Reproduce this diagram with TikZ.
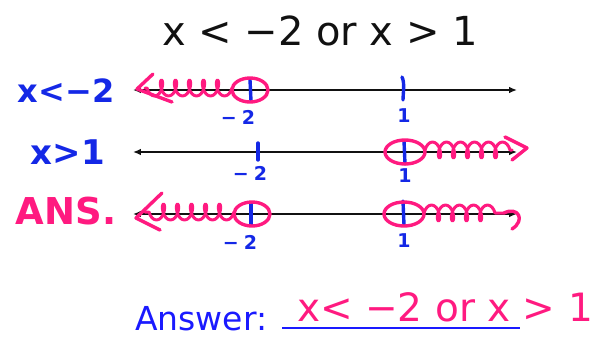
\documentclass[tikz,border=0pt]{standalone}
\usepackage{fontspec}
\setsansfont{DejaVu Sans}
\usetikzlibrary{arrows.meta,decorations.pathmorphing}
\definecolor{ink}{HTML}{111111}
\definecolor{penblue}{HTML}{1428E6}
\definecolor{penpink}{HTML}{FF1A80}
\definecolor{typeblue}{HTML}{1A1AFF}
\tikzset{
  numline/.style={{Latex[length=2.8mm,width=2.4mm]}-{Latex[length=2.8mm,width=2.4mm]}, line width=2pt, draw=ink},
  tickmark/.style={draw=penblue, line width=3.4pt, line cap=round},
  pinkpen/.style={draw=penpink, line width=3.4pt, line cap=round, line join=round},
  squiggle/.style={pinkpen, line width=3pt, decorate, decoration={coil, aspect=0.5, amplitude=8pt, segment length=14pt}},
  bluehand/.style={text=penblue, inner sep=0pt, font=\sffamily\bfseries\fontsize{32}{38}\selectfont},
  pinkhand/.style={text=penpink, inner sep=0pt, font=\sffamily\bfseries\fontsize{36}{42}\selectfont},
  ticklabel/.style={text=penblue, inner sep=0pt, font=\sffamily\bfseries\fontsize{19}{22}\selectfont}
}

\begin{document}
\begin{tikzpicture}[x=1pt, y=-1pt]
  \useasboundingbox (0,0) rectangle (601,338);

  \node[anchor=base, inner sep=0pt, text=ink, font=\sffamily\fontsize{40}{48}\selectfont] (title) at (320,45) {x < −2 or x > 1};

  % three number lines
  \coordinate (aw) at (133,90);  \coordinate (ae) at (517,90);
  \coordinate (bw) at (133,152); \coordinate (be) at (517,152);
  \coordinate (cw) at (133,214); \coordinate (ce) at (517,214);
  \draw[numline] (aw) -- (ae);
  \draw[numline] (bw) -- (be);
  \draw[numline] (cw) -- (ce);

  \node[bluehand] (lessrow) at (66,91) {x<−2};
  \node[bluehand, font=\sffamily\bfseries\fontsize{34}{40}\selectfont] (morerow) at (68,152) {x>1};
  \node[pinkhand, font=\sffamily\bfseries\fontsize{37}{42}\selectfont] (ansrow) at (66,211) {ANS.};

  % points -2 and 1 on each line
  \coordinate (am) at (250,90);  \coordinate (ap) at (403,90);
  \coordinate (bm) at (258,152); \coordinate (bp) at (405,152);
  \coordinate (cm) at (252,214); \coordinate (cp) at (404,214);

  \draw[tickmark] (am) ++(0,-10) -- ++(1,21);
  \draw[tickmark] (ap) ++(-1,-13) .. controls ++(3,6) and ++(0,-6) .. ++(1,23);
  \draw[tickmark] (bm) ++(0,-9) -- ++(0,17);
  \draw[tickmark] (bp) ++(-1,-11) -- ++(1,23);
  \draw[tickmark] (cm) ++(-1,-11) -- ++(0,22);
  \draw[tickmark] (cp) ++(-1,-13) -- ++(1,24);

  \node[ticklabel] (amlabel) at (238,117) {−\;2};
  \node[ticklabel] (aplabel) at (404,116) {1};
  \node[ticklabel] (bmlabel) at (250,173) {−\;2};
  \node[ticklabel] (bplabel) at (405,176) {1};
  \node[ticklabel] (cmlabel) at (240,242) {−\;2};
  \node[ticklabel] (cplabel) at (404,241) {1};

  % open circles
  \draw[pinkpen] (am) ellipse [x radius=18pt, y radius=12pt];
  \draw[pinkpen] (bp) ellipse [x radius=20pt, y radius=12pt];
  \draw[pinkpen] (cm) ellipse [x radius=18pt, y radius=12pt];
  \draw[pinkpen] (cp) ellipse [x radius=20pt, y radius=12pt];

  % shaded rays
  \draw[squiggle] (232,88) -- (145,88);
  \draw[pinkpen] (153,74) -- (137,89) -- (172,102);
  \draw[squiggle] (425,150) -- (512,150);
  \draw[pinkpen] (505,137) -- (527,148) -- (512,160);
  \draw[squiggle] (234,212) -- (145,212);
  \draw[pinkpen] (162,193) -- (136,218) -- (160,230);
  \draw[squiggle] (424,213) -- (504,213);
  \draw[pinkpen] (504,213) .. controls (518,206) and (526,220) .. (512,229);

  \node[anchor=base west, inner sep=0pt, text=typeblue, font=\sffamily\fontsize{33}{40}\selectfont] (answer) at (135,330) {Answer:};
  \coordinate (blankw) at (282,328); \coordinate (blanke) at (520,328);
  \draw[draw=typeblue, line width=2.6pt] (blankw) -- (blanke);
  \node[pinkhand, anchor=base, font=\sffamily\fontsize{39}{46}\selectfont] (answertext) at (445,321) {x< −2 or x > 1};
\end{tikzpicture}
\end{document}
